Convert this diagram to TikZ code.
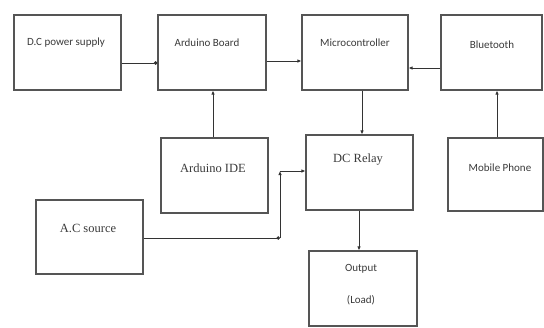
\documentclass[tikz,border=0pt]{standalone}
\usepackage{fontspec}
\setmainfont{Liberation Serif}
\newfontfamily\calfont{Carlito}
\usetikzlibrary{arrows.meta}
\definecolor{boxc}{HTML}{555555}
\definecolor{linec}{HTML}{333333}
\definecolor{txtc}{HTML}{3A3A3A}
\tikzset{
  box/.style={draw=boxc, line width=1.1pt, rectangle, inner sep=0pt},
  sanstxt/.style={font=\calfont\fontsize{11}{13}\selectfont, text=txtc, inner sep=0pt},
  seriftxt/.style={font=\fontsize{12.5}{14}\selectfont, text=txtc, inner sep=0pt},
  conn/.style={draw=linec, line width=1pt, -{Latex[length=4pt,width=3.5pt]}},
  seg/.style={draw=linec, line width=1pt},
}
\begin{document}
\begin{tikzpicture}[x=1pt,y=-1pt]
\useasboundingbox (0,0) rectangle (544,327);
% boxes
\node[box, minimum width=107pt, minimum height=75pt] (dcps) at (67.5,52.5) {};
\node[box, minimum width=108pt, minimum height=75pt] (ard) at (212,52.5) {};
\node[box, minimum width=106pt, minimum height=75pt] (mc) at (355,52.5) {};
\node[box, minimum width=101pt, minimum height=75pt] (bt) at (491.5,52.5) {};
\node[box, minimum width=107pt, minimum height=75pt] (ide) at (214.5,175.5) {};
\node[box, minimum width=107pt, minimum height=74pt] (ac) at (89.5,237) {};
\node[box, minimum width=107pt, minimum height=75pt] (relay) at (359.5,172.5) {};
\node[box, minimum width=95pt, minimum height=73pt] (mob) at (495.5,174.5) {};
\node[box, minimum width=108pt, minimum height=75pt] (out) at (363,288.5) {};
% texts
\node[sanstxt] (t-dcps) at (66,43) {D.C power supply};
\node[sanstxt] (t-ard) at (207,43) {Arduino Board};
\node[sanstxt] (t-mc) at (355,43) {Microcontroller};
\node[sanstxt] (t-bt) at (492,45) {Bluetooth};
\node[seriftxt] (t-ide) at (213,168) {Arduino IDE};
\node[seriftxt] (t-ac) at (88,228) {A.C source};
\node[seriftxt] (t-relay) at (358,160) {DC Relay};
\node[sanstxt] (t-mob) at (500,168) {Mobile Phone};
\node[sanstxt] (t-out) at (361,269) {Output};
\node[sanstxt] (t-load) at (361,300) {(Load)};
% connectors
\draw[conn, -{Circle[length=3.5pt]}] ([yshift=-10.5pt]dcps.east) -- ([yshift=-10.5pt]dcps.east -| ard.west);
\draw[conn] ([yshift=-8.5pt]ard.east) -- ([yshift=-8.5pt]ard.east -| mc.west);
\draw[conn] ([yshift=-15.5pt]bt.west) -- ([yshift=-15.5pt]bt.west -| mc.east);
\draw[conn] ([xshift=7pt]mc.south) -- ([xshift=7pt]mc.south |- relay.north);
\draw[conn] ([xshift=-1.5pt]ide.north) -- ([xshift=-1.5pt]ide.north |- ard.south);
\draw[conn] ([xshift=1.5pt]mob.north) -- ([xshift=1.5pt]mob.north |- bt.south);
\draw[conn] ([xshift=-0.5pt]relay.south) -- ([xshift=-0.5pt]relay.south |- out.north);
\coordinate (c1) at (280,238);
\coordinate (c2) at (280,171);
\draw[seg, -{Circle[length=3.5pt]}] ([yshift=-1pt]ac.east) -- (c1);
\draw[seg, -{Latex[length=4pt,width=3.5pt]}] (c1) -- (c2);
\draw[conn] (c2) -- (c2 -| relay.west);
\end{tikzpicture}
\end{document}
